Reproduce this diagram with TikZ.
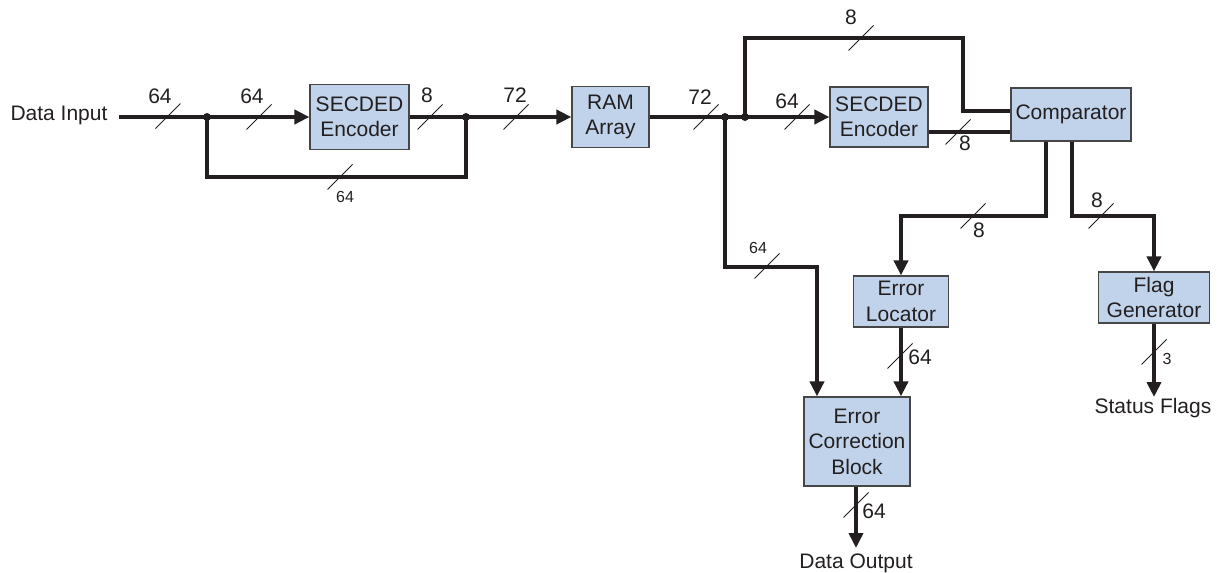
\documentclass[tikz,border=0pt]{standalone}
\usepackage{fontspec}
\setmainfont{Liberation Sans}
\usetikzlibrary{arrows.meta}
\definecolor{boxfill}{RGB}{192,211,234}
\definecolor{ink}{RGB}{35,31,32}
\definecolor{edgec}{RGB}{70,70,70}
\begin{document}
\begin{tikzpicture}[x=1pt,y=-1pt,
  blk/.style={draw=edgec,line width=1.2pt,fill=boxfill,align=center,inner sep=0pt,font=\fontsize{21}{25.5}\selectfont,text=ink},
  bus/.style={line width=4pt,draw=ink},
  arr/.style={bus,-{Triangle[length=15pt,width=14pt]}},
  slash/.style={line width=0.9pt,draw=ink},
  lab/.style={font=\fontsize{21}{25}\selectfont,text=ink,inner sep=0pt},
  slab/.style={font=\fontsize{16}{19}\selectfont,text=ink,inner sep=0pt},
  jdot/.style={circle,fill=ink,inner sep=0pt,minimum size=8pt}]
\useasboundingbox (0,0) rectangle (1219,573);

% blocks
\node[blk,minimum width=99pt,minimum height=65pt] (enc1) at (359.5,117) {SECDED\\Encoder};
\node[blk,minimum width=77pt,minimum height=61pt] (ram) at (610.5,117) {RAM\\Array};
\node[blk,minimum width=98pt,minimum height=60pt] (enc2) at (879,117) {SECDED\\Encoder};
\node[blk,minimum width=120pt,minimum height=53pt] (comp) at (1071,114.5) {Comparator};
\node[blk,minimum width=95pt,minimum height=51pt] (eloc) at (901,301.5) {Error\\Locator};
\node[blk,minimum width=106pt,minimum height=89pt] (ecb) at (857,441.5) {Error\\Correction\\Block};
\node[blk,minimum width=111pt,minimum height=51pt] (flag) at (1154,297.5) {Flag\\Generator};

% terminal texts
\node[lab] (din) at (59,115) {Data Input};
\node[lab] (dout) at (856,563) {Data Output};
\node[lab] (sflags) at (1153,408) {Status Flags};

% coordinates
\coordinate (in0) at (119,117);
\coordinate (b2) at (466,177);
\coordinate (t2) at (963,38);
\coordinate (t3) at (963,111);
\coordinate (c2) at (928,132);
\coordinate (k1) at (1046,216);
\coordinate (k2) at (1072,216);
\coordinate (m1) at (817,267);
\coordinate (o1) at (856,548);
\coordinate (o2) at (1154,397);

% junction dots
\node[jdot] (j1) at (207,117) {};
\node[jdot] (j2) at (466,117) {};
\node[jdot] (j3) at (725,117) {};
\node[jdot] (j4) at (745,117) {};

% buses
\draw[arr] (in0) -- (enc1.west);
\draw[bus] (j1.center) |- (b2) -- (j2.center);
\draw[arr] (enc1.east) -- (ram.west);
\draw[arr] (ram.east) -- (enc2.west);
\draw[bus] (j4.center) |- (t2) |- (comp.west |- t3);
\draw[bus] (enc2.east |- c2) -- (comp.west |- c2);
\draw[arr] (comp.south -| k1) -- (k1) -| (eloc.north);
\draw[arr] (comp.south -| k2) -- (k2) -| (flag.north);
\draw[arr] (j3.center) |- (m1) -- (ecb.north -| m1);
\draw[arr] (eloc.south) -- (ecb.north -| eloc.south);
\draw[arr] (ecb.south -| o1) -- (o1);
\draw[arr] (flag.south -| o2) -- (o2);

% bus width slashes
\foreach \x/\y in {168/116, 259/117, 430/117, 516/117, 340/177, 706/117, 797/117, 861/38, 958/132, 973/216, 1101/216, 767/266, 900/356, 856/505, 1154/352}
  \draw[slash] (\x,\y) ++(-12.5,12.5) -- ++(25,-25);

% labels
\node[lab] (l1) at (160,96) {64};
\node[lab] (l2) at (252,96) {64};
\node[lab] (l3) at (427,95) {8};
\node[lab] (l4) at (515,95) {72};
\node[slab] (l5) at (345,197) {64};
\node[lab] (l6) at (700,97) {72};
\node[lab] (l7) at (787,101) {64};
\node[lab] (l8) at (851,17) {8};
\node[lab] (l9) at (965,143) {8};
\node[lab] (l10) at (979,230) {8};
\node[lab] (l11) at (1097,200) {8};
\node[slab] (l12) at (758,248) {64};
\node[lab] (l13) at (920,357) {64};
\node[lab] (l14) at (874,511) {64};
\node[slab] (l15) at (1167,359) {3};
\end{tikzpicture}
\end{document}
